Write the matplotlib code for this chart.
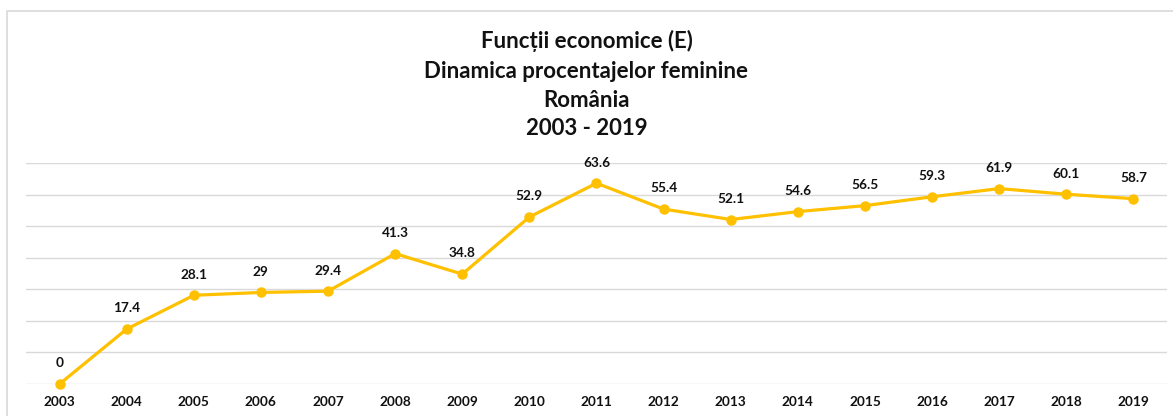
import matplotlib.pyplot as plt
from matplotlib.patches import Rectangle

# Data
years = ['2003', '2004', '2005', '2006', '2007', '2008', '2009', '2010', '2011',
         '2012', '2013', '2014', '2015', '2016', '2017', '2018', '2019']
values = [0, 17.4, 28.1, 29, 29.4, 41.3, 34.8, 52.9, 63.6,
          55.4, 52.1, 54.6, 56.5, 59.3, 61.9, 60.1, 58.7]

title_lines = ['Funcții economice (E)', 'Dinamica procentajelor feminine',
               'România', '2003 - 2019']

plt.rcParams['font.family'] = ['Lato', 'DejaVu Sans']

W, H = 1173, 416
fig = plt.figure(figsize=(W / 100, H / 100), dpi=100)
ax = fig.add_axes([26 / W, (H - 384) / H, 1141 / W, (384 - 163) / H])

# outer chart frame (only top/left visible in the crop)
fig.patches.append(Rectangle((7 / W, -0.1), 1.2, (H - 11) / H + 0.1,
                             transform=fig.transFigure, fill=False,
                             edgecolor='#d9d9d9', linewidth=1.2))

x = range(len(years))
ax.plot(x, values, color='#FFC000', linewidth=2.3, marker='o', markersize=6.5,
        zorder=3, clip_on=False)

for xi, v in zip(x, values):
    ax.annotate(f'{v:g}', (xi, v), xytext=(0, 12), textcoords='offset points',
                ha='center', va='baseline', fontsize=9.8, fontweight='bold',
                color='#111111')

ax.set_xlim(-0.5, len(years) - 0.5)
ax.set_ylim(0, 70)
ax.set_yticks(range(0, 71, 10))
ax.set_yticklabels([])
ax.set_xticks(list(x))
ax.set_xticklabels(years, fontsize=9.8, fontweight='bold', color='#111111')
ax.tick_params(axis='both', length=0)
ax.tick_params(axis='x', pad=9)

ax.grid(axis='y', color='#d9d9d9', linewidth=1)
ax.set_axisbelow(True)
for s in ax.spines.values():
    s.set_visible(False)

# title lines placed on their baselines
for line, base in zip(title_lines, [48, 78, 107, 135]):
    fig.text(0.5, (H - base) / H, line, ha='center', va='baseline',
             fontsize=16, fontweight='bold', color='#111111')

fig.savefig('out.png', dpi=100)
